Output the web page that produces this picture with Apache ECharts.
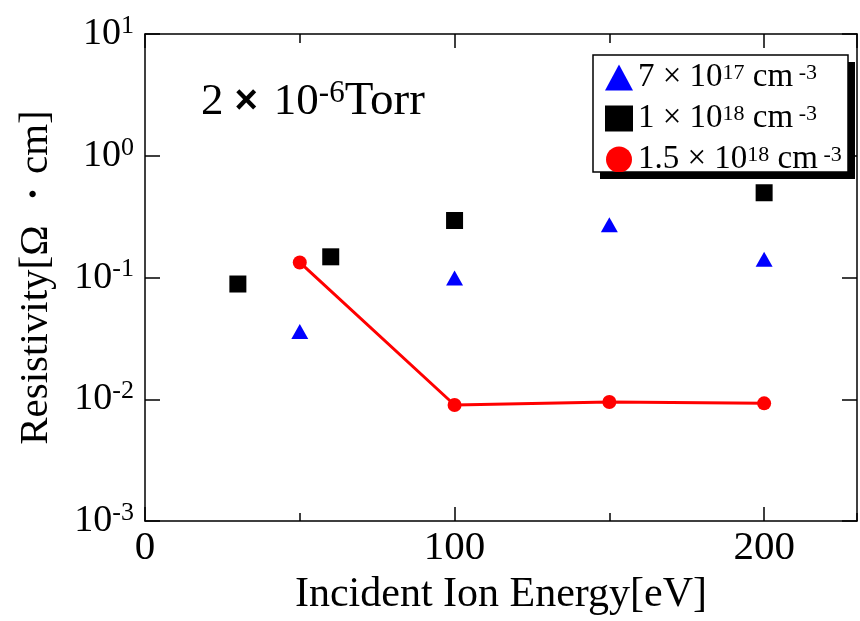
<!DOCTYPE html>
<html>
<head>
<meta charset="utf-8">
<script src="https://cdn.jsdelivr.net/npm/echarts@6/dist/echarts.min.js"></script>
<style>
html, body { margin: 0; padding: 0; background: #fff; }
#main { width: 860px; height: 621px; }
</style>
</head>
<body>
<div id="main"></div>
<script>
// 7x10^17 cm^-3 (blue triangles)
var energyA = [50, 100, 150, 200];
var rhoA = [0.0361, 0.099, 0.271, 0.1416];
// 1x10^18 cm^-3 (black squares)
var energyB = [30, 60, 100, 200];
var rhoB = [0.0885, 0.148, 0.294, 0.497];
// 1.5x10^18 cm^-3 (red circles, joined)
var energyC = [50, 100, 150, 200];
var rhoC = [0.133, 0.00898, 0.00951, 0.00927];

var seriesNames = ['7e17', '1e18', '1.5e18'];
var legendBase = ['7', '1', '1.5'];
var legendExp = ['17', '18', '18'];

var serif = 'Liberation Serif';

function pairs(xs, ys) {
    return xs.map(function (x, i) { return [x, ys[i]]; });
}

var chart = echarts.init(document.getElementById('main'));

var frameLine = { show: true, onZero: false, lineStyle: { color: '#000', width: 1.5 } };
var tickStyle = { color: '#000', width: 1.5 };

// frame axes: major ticks every 100, small ones every 50 (drawn by an extra axis)
function xFrame(pos, step, len, extra) {
    return {
        type: 'value',
        position: pos,
        min: 0,
        max: 230,
        interval: step,
        axisLine: extra ? { show: false } : frameLine,
        axisTick: { show: true, inside: true, length: len, lineStyle: tickStyle },
        axisLabel: { show: false },
        splitLine: { show: false }
    };
}

var xMain = xFrame('bottom', 100, 14, false);
xMain.name = 'Incident Ion Energy[eV]';
xMain.nameLocation = 'middle';
xMain.nameGap = 52;
xMain.nameTextStyle = { fontFamily: serif, fontSize: 42, color: '#000' };
xMain.axisLabel = {
    show: true,
    margin: 7,
    fontFamily: serif,
    fontSize: 41,
    color: '#000',
    showMaxLabel: false
};

// legend box and its hard drop shadow
var boxX = 593, boxY = 55, boxW = 255, boxH = 117, shadowOff = 7;

var option = {
    animation: false,
    backgroundColor: '#fff',
    grid: { left: 145, right: 3, top: 34, bottom: 97 },
    legend: {
        orient: 'vertical',
        left: 593,
        top: 55,
        z: 20,
        padding: [6, 6, 2, 12],
        itemWidth: 28,
        itemHeight: 26,
        itemGap: 8,
        data: [
            { name: seriesNames[0], icon: 'triangle' },
            { name: seriesNames[1], icon: 'rect' },
            { name: seriesNames[2], icon: 'circle' }
        ],
        formatter: function (name) {
            var i = seriesNames.indexOf(name);
            return '{t|' + legendBase[i] + ' \u00d7 10}{s|' + legendExp[i] + '}{t| cm}{s| -3}';
        },
        textStyle: {
            fontFamily: serif,
            color: '#000',
            rich: {
                t: { fontFamily: serif, fontSize: 33, lineHeight: 30, color: '#000' },
                s: { fontFamily: serif, fontSize: 22, lineHeight: 30, verticalAlign: 'top', color: '#000' }
            }
        }
    },
    xAxis: [
        xMain,
        xFrame('top', 100, 14, false),
        xFrame('bottom', 50, 8, true),
        xFrame('top', 50, 9, true)
    ],
    yAxis: [{
        type: 'log',
        logBase: 10,
        min: 0.001,
        max: 10,
        name: 'Resistivity[\u03a9 \u30fbcm]',
        nameLocation: 'middle',
        nameGap: 88,
        nameTextStyle: { fontFamily: serif, fontSize: 41, color: '#000' },
        axisLine: frameLine,
        axisTick: { show: true, inside: true, length: 15, lineStyle: tickStyle },
        minorTick: { show: false },
        axisLabel: {
            margin: 11,
            formatter: function (v) {
                var e = Math.round(Math.log(v) / Math.LN10);
                return '{b|10}{s|' + e + '}';
            },
            rich: {
                b: { fontFamily: serif, fontSize: 38, lineHeight: 42, color: '#000' },
                s: { fontFamily: serif, fontSize: 26, lineHeight: 42, verticalAlign: 'top', color: '#000' }
            }
        },
        splitLine: { show: false }
    }, {
        type: 'log',
        logBase: 10,
        min: 0.001,
        max: 10,
        position: 'right',
        axisLine: frameLine,
        axisTick: { show: true, inside: true, length: 15, lineStyle: tickStyle },
        axisLabel: { show: false },
        splitLine: { show: false }
    }],
    graphic: {
        elements: [{
            type: 'rect',
            id: 'shadowRight',
            x: boxX + boxW,
            y: boxY + shadowOff,
            z: 100,
            shape: { x: 0, y: 0, width: shadowOff, height: boxH },
            style: { fill: '#000' }
        }, {
            type: 'rect',
            id: 'shadowBottom',
            x: boxX + shadowOff,
            y: boxY + boxH,
            z: 100,
            shape: { x: 0, y: 0, width: boxW, height: shadowOff },
            style: { fill: '#000' }
        }, {
            type: 'rect',
            id: 'legendFrame',
            x: boxX,
            y: boxY,
            z: 6,
            shape: { x: 0, y: 0, width: boxW, height: boxH },
            style: { fill: '#fff', stroke: '#000', lineWidth: 1.5 }
        }, {
            type: 'text',
            id: 'pressure',
            left: 201,
            top: 78,
            style: {
                text: '{a|2}{x|\u00d7}{a|10}{s|-6}{b|Torr}',
                rich: {
                    a: { fontFamily: serif, fontSize: 45, lineHeight: 48, fill: '#000' },
                    b: { fontFamily: serif, fontSize: 47, lineHeight: 48, fill: '#000' },
                    x: { fontFamily: 'Liberation Sans', fontWeight: 'bold', fontSize: 40, lineHeight: 48, fill: '#000', padding: [0, 16, 0, 11] },
                    s: { fontFamily: serif, fontSize: 31, lineHeight: 48, verticalAlign: 'top', fill: '#000' }
                }
            }
        }]
    },
    series: [{
        name: seriesNames[0],
        type: 'scatter',
        symbol: 'triangle',
        symbolSize: [17, 15],
        itemStyle: { color: '#0000ff', opacity: 1 },
        data: pairs(energyA, rhoA)
    }, {
        name: seriesNames[1],
        type: 'scatter',
        symbol: 'rect',
        symbolSize: 17,
        itemStyle: { color: '#000', opacity: 1 },
        data: pairs(energyB, rhoB)
    }, {
        name: seriesNames[2],
        type: 'line',
        symbol: 'circle',
        symbolSize: 14,
        lineStyle: { color: '#ff0000', width: 3 },
        itemStyle: { color: '#ff0000', opacity: 1 },
        data: pairs(energyC, rhoC)
    }]
};

chart.setOption(option);
</script>
</body>
</html>
